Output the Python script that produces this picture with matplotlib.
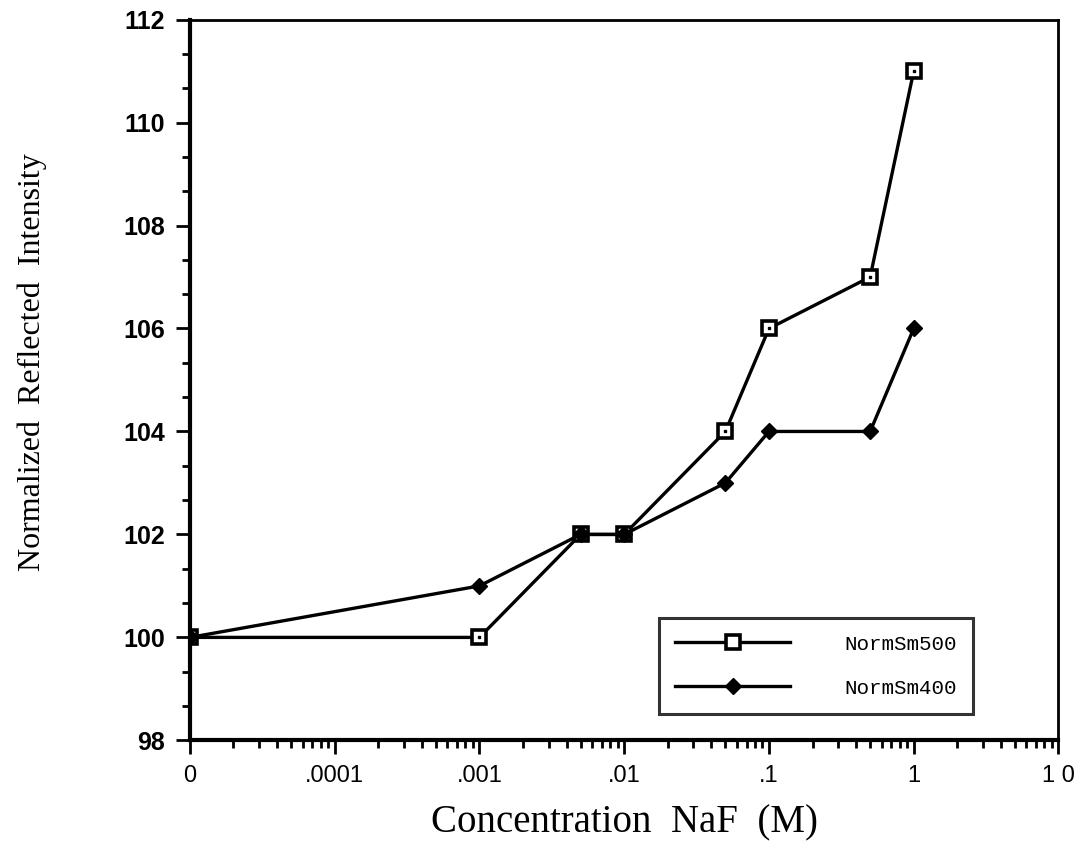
import matplotlib
matplotlib.use("Agg")
import matplotlib.pyplot as plt
from matplotlib.ticker import FixedLocator, MultipleLocator, LogLocator, NullFormatter

# data ("0" is drawn at 1e-5 on the log axis)
conc = [1e-5, 0.001, 0.005, 0.01, 0.05, 0.1, 0.5, 1.0]
norm_sm500 = [100, 100, 102, 102, 104, 106, 107, 111]
norm_sm400 = [100, 101, 102, 102, 103, 104, 104, 106]

xtick_vals = [1e-5, 1e-4, 1e-3, 1e-2, 1e-1, 1, 10]
xtick_labels = ["0", ".0001", ".001", ".01", ".1", "1", "1 0"]
ytick_vals = [98, 100, 102, 104, 106, 108, 110, 112]

fig = plt.figure(figsize=(10.79, 8.51), dpi=100)
ax = fig.add_axes([0.176, 0.130, 0.805, 0.847])

# NormSm500: open squares with a small dot inside
l1, = ax.plot(conc, norm_sm500, color="black", linewidth=2.4, marker="s",
              markersize=10, markerfacecolor="white", markeredgecolor="black",
              markeredgewidth=2.6, label="NormSm500", zorder=3)
ax.plot(conc, norm_sm500, linestyle="none", marker="s", markersize=2,
        color="black", zorder=4)

# NormSm400: filled diamonds
l2, = ax.plot(conc, norm_sm400, color="black", linewidth=2.4, marker="D",
              markersize=8.5, markerfacecolor="black", label="NormSm400", zorder=5)

ax.set_xscale("log")
ax.set_xlim(1e-5, 10)
ax.set_ylim(98, 112)

ax.xaxis.set_major_locator(FixedLocator(xtick_vals))
ax.set_xticklabels(xtick_labels, fontsize=17, family="Liberation Sans")
ax.xaxis.set_minor_locator(LogLocator(base=10, subs=range(2, 10), numticks=20))
ax.xaxis.set_minor_formatter(NullFormatter())

ax.set_yticks(ytick_vals)
ax.set_yticklabels([str(v) for v in ytick_vals], fontsize=18,
                   family="Liberation Sans", fontweight="bold")
ax.yaxis.set_minor_locator(MultipleLocator(2 / 3))

ax.tick_params(axis="both", which="major", direction="out", length=10,
               width=2, pad=8)
ax.tick_params(axis="both", which="minor", direction="out", length=6, width=2)
ax.tick_params(top=False, right=False, which="both")

for side in ["left", "bottom"]:
    ax.spines[side].set_linewidth(3)
for side in ["top", "right"]:
    ax.spines[side].set_linewidth(2)

ax.set_xlabel("Concentration  NaF  (M)", fontsize=28, family="Liberation Serif",
              labelpad=12)
ax.set_ylabel("Normalized  Reflected  Intensity", fontsize=23,
              family="Liberation Serif")
ax.yaxis.set_label_coords(-0.165, 0.525)

leg = ax.legend(handles=[l1, l2], loc="lower right",
                bbox_to_anchor=(0.902, 0.036), prop={"family": "Liberation Mono", "size": 15},
                frameon=True, fancybox=False, borderpad=0.8, handlelength=5.5,
                handletextpad=2.6, labelspacing=1.2, borderaxespad=0)
leg.get_frame().set_edgecolor("black")
leg.get_frame().set_linewidth(2.2)

fig.savefig("out.png", dpi=100)
